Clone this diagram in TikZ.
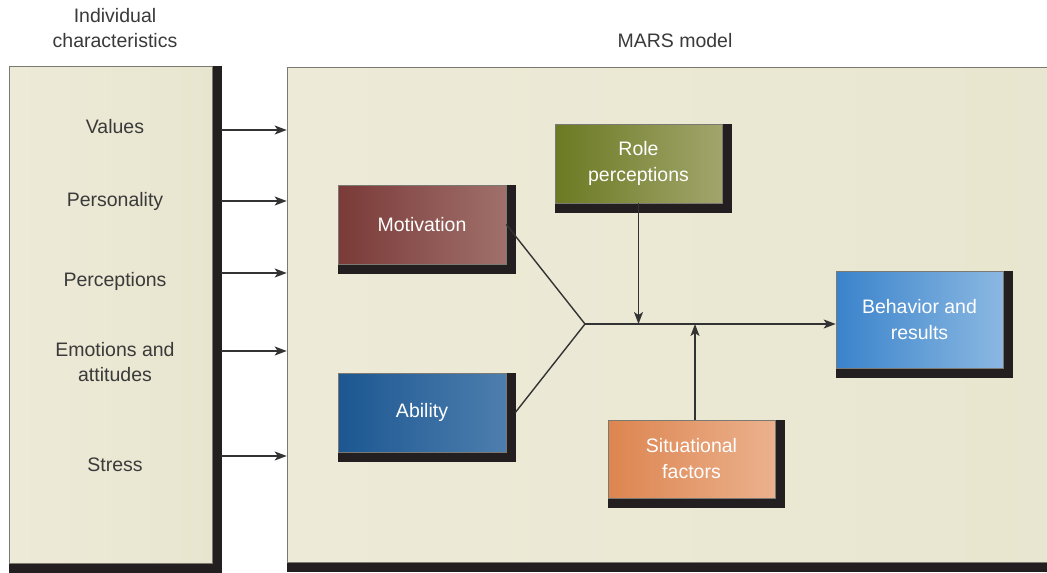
\documentclass[tikz,border=0pt]{standalone}
\usepackage{fontspec}
\setmainfont{Liberation Sans}
\usetikzlibrary{shadows,arrows.meta}
\definecolor{creamA}{HTML}{EDEAD8}
\definecolor{creamB}{HTML}{E8E5CF}
\definecolor{shadowc}{HTML}{231F20}
\definecolor{bordc}{HTML}{7A7A72}
\definecolor{txtc}{HTML}{3A3A3A}
\definecolor{linec}{HTML}{333333}
\definecolor{motA}{HTML}{7A3A38}\definecolor{motB}{HTML}{A0706B}
\definecolor{roleA}{HTML}{6B7A22}\definecolor{roleB}{HTML}{A2A56C}
\definecolor{abiA}{HTML}{1C5791}\definecolor{abiB}{HTML}{4D7EAE}
\definecolor{sitA}{HTML}{DD8550}\definecolor{sitB}{HTML}{EBB18D}
\definecolor{behA}{HTML}{3A83CB}\definecolor{behB}{HTML}{8BB8E2}
\begin{document}
\begin{tikzpicture}[x=1pt,y=-1pt,
  lbl/.style={text=txtc, font=\fontsize{19.5}{25}\selectfont, align=center, inner sep=0pt},
  box/.style={draw=bordc, line width=0.6pt, inner sep=0pt, align=center, text=white,
    font=\fontsize{19.5}{26}\selectfont,
    general shadow={fill=shadowc, draw=shadowc, shadow xshift=9pt, shadow yshift=0pt},
    general shadow={fill=shadowc, draw=shadowc, shadow xshift=0pt, shadow yshift=-9pt},
    general shadow={fill=shadowc, draw=shadowc, shadow xshift=9pt, shadow yshift=-9pt}},
  conn/.style={draw=linec, line width=1.4pt},
  arr/.style={conn, -{Stealth[length=12pt,width=9pt,inset=3pt]}}]
\clip (0,0) rectangle (1047,573);
\fill[white] (0,0) rectangle (1047,573);
% big panels
\node[box, minimum width=203pt, minimum height=497pt, left color=creamA, right color=creamB] (ind) at (110.5,314.5) {};
\node[box, minimum width=813pt, minimum height=495pt, left color=creamA, right color=creamB] (mars) at (693.5,314.5) {};
% headings
\node[lbl] (indh) at (115,28) {Individual\\characteristics};
\node[lbl] (marsh) at (675,41) {MARS model};
% characteristics
\node[lbl] (val) at (115,127) {Values};
\node[lbl] (pers) at (115,201) {Personality};
\node[lbl] (perc) at (115,281) {Perceptions};
\node[lbl] (emo) at (115,362) {Emotions and\\attitudes};
\node[lbl] (str) at (115,465) {Stress};
\coordinate (a1) at (0,130);
\coordinate (a2) at (0,201);
\coordinate (a3) at (0,273);
\coordinate (a4) at (0,351);
\coordinate (a5) at (0,456);
\foreach \a in {a1,a2,a3,a4,a5}
  \draw[arr] ([xshift=9pt]ind.east |- \a) -- (mars.west |- \a);
% MARS boxes
\node[box, minimum width=168pt, minimum height=79pt, left color=motA, right color=motB] (mot) at (422,224.5) {Motivation};
\node[box, minimum width=167pt, minimum height=79pt, left color=roleA, right color=roleB] (role) at (638.5,163.5) {Role\\perceptions};
\node[box, minimum width=168pt, minimum height=79pt, left color=abiA, right color=abiB] (abi) at (422,412.5) {Ability};
\node[box, minimum width=167pt, minimum height=78pt, left color=sitA, right color=sitB] (sit) at (691.5,459) {Situational\\factors};
\node[box, minimum width=167pt, minimum height=97pt, left color=behA, right color=behB] (beh) at (919.5,319.5) {Behavior and\\results};
\coordinate (junc) at (585,324);
\draw[conn] (mot.east) -- (junc);
\draw[conn] ([xshift=9pt]abi.east) -- (junc);
\draw[arr] (junc) -- (junc -| beh.west);
\draw[arr] (role.south) -- (role.south |- junc);
\draw[arr] ([xshift=3.5pt]sit.north) -- ([xshift=3.5pt]sit.north |- junc);
\end{tikzpicture}
\end{document}
